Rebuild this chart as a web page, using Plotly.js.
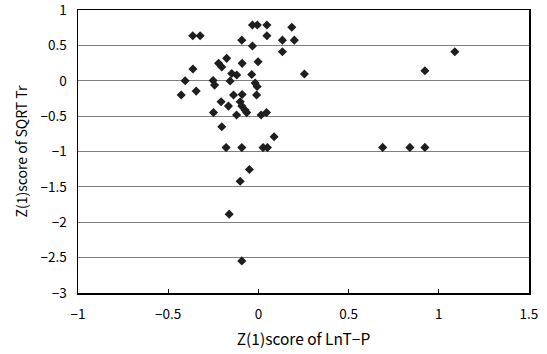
<!DOCTYPE html>
<html>
<head>
<meta charset="utf-8">
<script src="https://cdn.plot.ly/plotly-3.0.1.min.js"></script>
<style>
  html, body { margin: 0; padding: 0; background: #fff; }
  #chart { width: 547px; height: 354px; }
</style>
</head>
<body>
<div id="chart"></div>
<script>
// Z(1) scores: LnT-P (x) against SQRT Tr (y)
const zLnTP = [
  -0.364, -0.323, -0.033, -0.006, 0.047, 0.047, 0.185, -0.092, -0.033, 0.133,
  0.199, 0.133, -0.176, -0.221, -0.203, -0.090, -0.002, -0.363, -0.406, -0.428,
  -0.345, -0.251, -0.243, -0.157, -0.148, -0.120, -0.037, -0.018, -0.007, 0.255,
  -0.138, -0.090, -0.010, -0.207, -0.166, -0.101, -0.092, -0.074, -0.249, -0.121,
  -0.065, 0.015, 0.045, -0.203, 0.087, -0.179, -0.092, 0.026, 0.050, -0.050,
  -0.101, -0.162, -0.092, 1.089, 0.923, 0.689, 0.840, 0.923
];
const zSqrtTr = [
  0.637, 0.637, 0.788, 0.788, 0.788, 0.637, 0.756, 0.574, 0.491, 0.574,
  0.574, 0.410, 0.317, 0.246, 0.194, 0.246, 0.269, 0.166, 0.000, -0.202,
  -0.146, 0.003, -0.061, -0.004, 0.102, 0.081, 0.088, -0.033, -0.082, 0.095,
  -0.202, -0.195, -0.202, -0.297, -0.358, -0.297, -0.358, -0.415, -0.450, -0.485,
  -0.450, -0.485, -0.450, -0.651, -0.792, -0.945, -0.945, -0.945, -0.945, -1.254,
  -1.420, -1.886, -2.547, 0.410, 0.142, -0.942, -0.942, -0.942
];

const xTicks = [-1, -0.5, 0, 0.5, 1, 1.5];
const yTicks = [1, 0.5, 0, -0.5, -1, -1.5, -2, -2.5, -3];

const FONT = '"Noto Sans CJK JP", "Liberation Sans", Arial, sans-serif';

const trace = {
  type: 'scatter',
  mode: 'markers',
  x: zLnTP,
  y: zSqrtTr,
  marker: { symbol: 'diamond', size: 7, color: '#1e1e1e', line: { width: 0 } },
  hoverinfo: 'x+y'
};

const layout = {
  width: 547,
  height: 354,
  margin: { l: 78, r: 18, t: 10, b: 61 },
  paper_bgcolor: '#ffffff',
  plot_bgcolor: '#ffffff',
  showlegend: false,
  font: { family: FONT, size: 12, color: '#000' },
  xaxis: {
    range: [-1.0002, 1.5002],
    tickvals: xTicks,
    ticktext: xTicks.map(v => String(v).replace('-', '\u2212')),
    ticks: 'inside',
    ticklen: 4,
    tickwidth: 1,
    tickcolor: '#000',
    ticklabelstandoff: 8,
    ticklabeloverflow: 'allow',
    showgrid: false,
    zeroline: false,
    showline: true,
    linecolor: '#000',
    linewidth: 1.5,
    mirror: true,
    tickfont: { family: FONT, size: 13.5, color: '#000' },
    title: { text: 'Z(1)score of LnT\u2212P', font: { family: FONT, size: 15.5, color: '#000' }, standoff: 12 }
  },
  yaxis: {
    range: [-3.0005, 1.0005],
    tickvals: yTicks,
    ticktext: yTicks.map(v => String(v).replace('-', '\u2212')),
    ticks: '',
    ticklabelstandoff: 7,
    ticklabeloverflow: 'allow',
    showgrid: true,
    gridcolor: '#808080',
    gridwidth: 1,
    zeroline: false,
    showline: true,
    linecolor: '#000',
    linewidth: 1.5,
    mirror: true,
    tickfont: { family: FONT, size: 13.5, color: '#000' },
    title: { text: 'Z(1)score of SQRT Tr', font: { family: FONT, size: 14, color: '#000' }, standoff: 9 }
  }
};

Plotly.newPlot('chart', [trace], layout, { displayModeBar: false, staticPlot: true });
</script>
</body>
</html>
